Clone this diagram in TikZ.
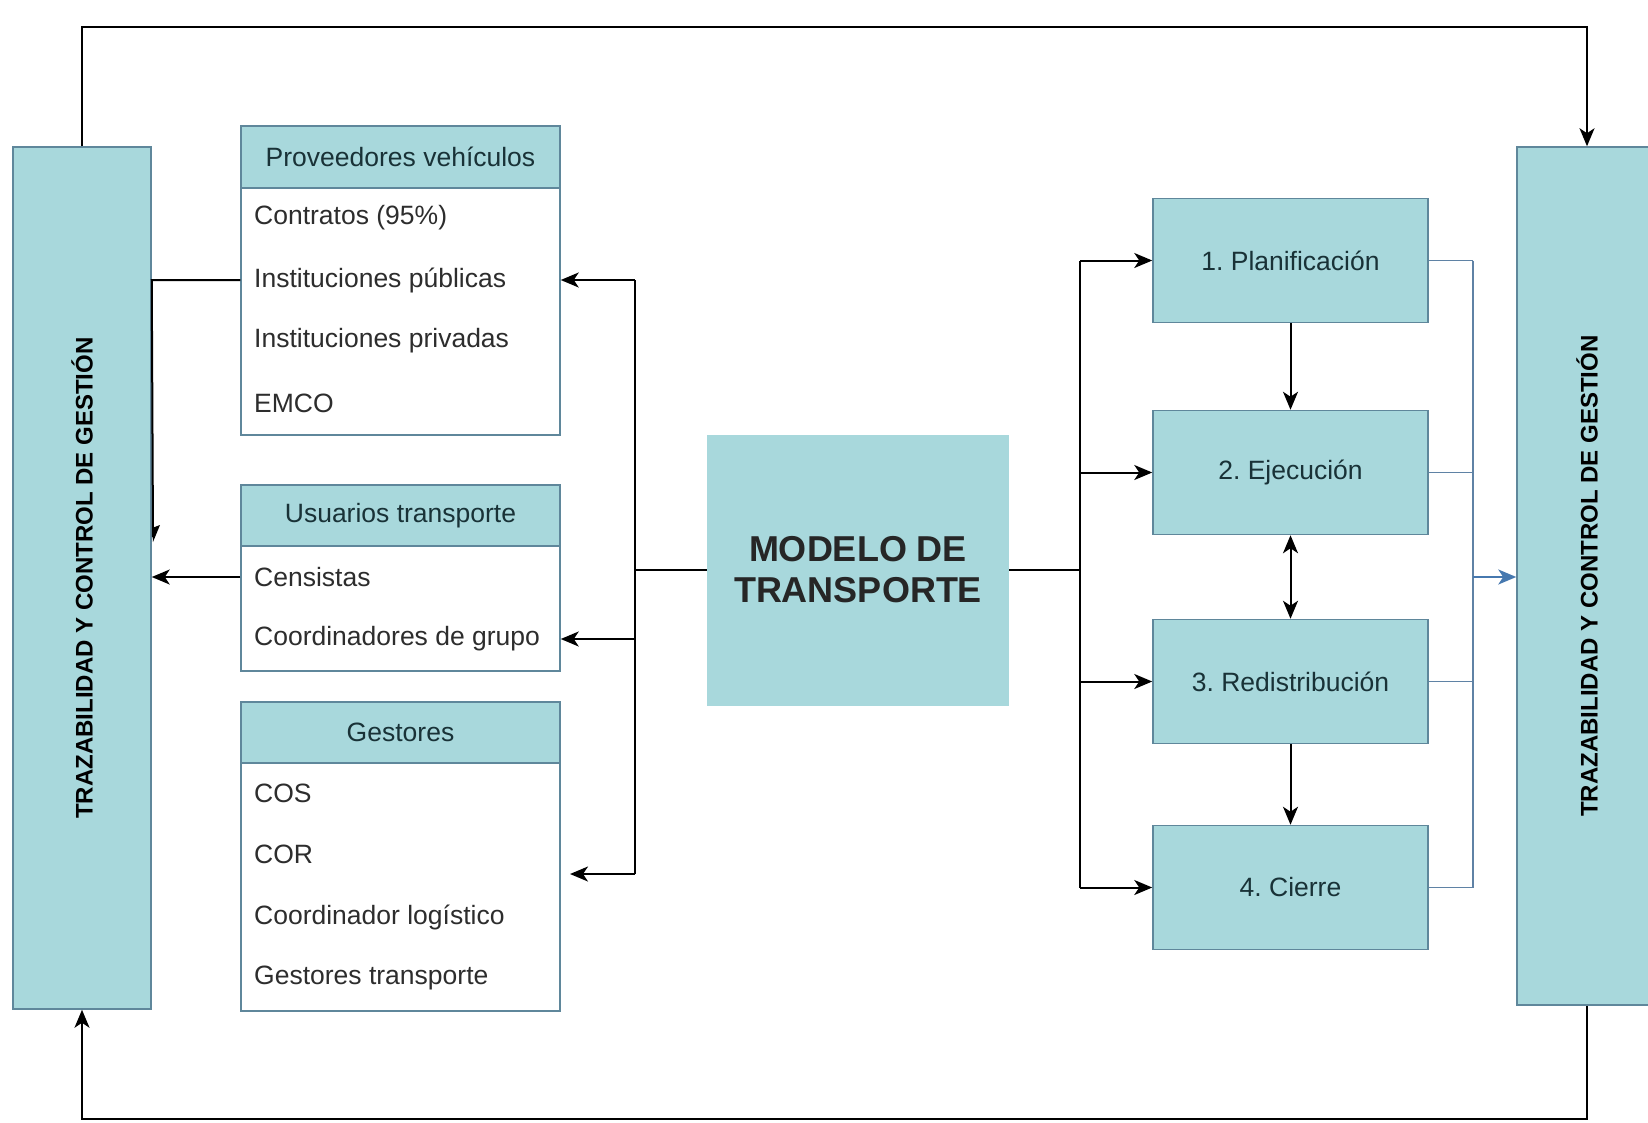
\documentclass[tikz,border=0pt]{standalone}
\usepackage{fontspec}
\setmainfont{Liberation Sans}
\usetikzlibrary{arrows.meta}
\definecolor{tealfill}{RGB}{168,216,220}
\definecolor{boxline}{RGB}{95,135,155}
\definecolor{blueline}{RGB}{95,130,165}
\definecolor{bluearrow}{RGB}{70,120,175}
\definecolor{hdrtext}{RGB}{25,50,55}
\definecolor{rowtext}{RGB}{45,45,45}
\frenchspacing
\begin{document}
\begin{tikzpicture}[x=1pt,y=-1pt,
  bar/.style={draw=boxline,line width=1.5pt,fill=tealfill,minimum width=138pt,inner sep=0pt,
    font=\fontsize{24}{28}\selectfont\bfseries,text=black},
  hdr/.style={draw=boxline,line width=1.5pt,fill=tealfill,minimum width=319pt,inner sep=0pt,
    font=\fontsize{26.5}{30}\selectfont,text=hdrtext},
  body/.style={draw=boxline,line width=1.5pt,fill=white,minimum width=319pt,inner sep=0pt},
  row/.style={anchor=west,inner sep=0pt,font=\fontsize{26.5}{30}\selectfont,text=rowtext},
  stepbox/.style={draw=boxline,line width=1.5pt,fill=tealfill,minimum width=275pt,minimum height=124pt,
    inner sep=0pt,font=\fontsize{26.5}{30}\selectfont,text=hdrtext},
  conn/.style={draw=black,line width=2pt},
  arr/.style={conn,-{Stealth[length=18pt,width=15pt,inset=5pt]}},
  darr/.style={conn,{Stealth[length=18pt,width=15pt,inset=5pt]}-{Stealth[length=18pt,width=15pt,inset=5pt]}},
  bconn/.style={draw=blueline,line width=1.6pt},
  barr/.style={draw=bluearrow,line width=2.4pt,-{Stealth[length=18pt,width=15pt,inset=5pt]}}]
\useasboundingbox (0,0) rectangle (1648,1122);

% side bars
\node[bar,minimum height=862pt] (lbar) at (82,578) {\rotatebox{90}{TRAZABILIDAD Y CONTROL DE GESTIÓN}};
\node[bar,minimum height=858pt,minimum width=140pt] (rbar) at (1587,576) {\rotatebox{90}{TRAZABILIDAD Y CONTROL DE GESTIÓN}};

% Proveedores
\node[body,minimum height=247pt] (pb) at (400.5,311.5) {};
\node[hdr,minimum height=62pt] (ph) at (400.5,157) {Proveedores vehículos};
\node[row] (r11) at (254,218) {Contratos (95\%)};
\node[row] (r12) at (254,280) {Instituciones públicas};
\node[row] (r13) at (254,341) {Instituciones privadas};
\node[row] (r14) at (254,403) {EMCO};

% Usuarios
\node[body,minimum height=125pt] (ub) at (400.5,608.5) {};
\node[hdr,minimum height=61pt] (uh) at (400.5,515.5) {Usuarios transporte};
\node[row] (r21) at (254,577) {Censistas};
\node[row] (r22) at (254,639) {Coordinadores de grupo};

% Gestores
\node[body,minimum height=248pt] (gb) at (400.5,887) {};
\node[hdr,minimum height=61pt] (gh) at (400.5,732.5) {Gestores};
\node[row] (r31) at (254,793) {COS};
\node[row] (r32) at (254,854) {COR};
\node[row] (r33) at (254,917) {Coordinador logístico};
\node[row] (r34) at (254,978) {Gestores transporte};

% Modelo
\node[fill=tealfill,minimum width=302pt,minimum height=271pt,inner sep=0pt,align=center,
  font=\fontsize{36}{41}\selectfont\bfseries,text=black!85] (mod) at (858,570) {MODELO DE\\TRANSPORTE};

% steps
\node[stepbox] (s1) at (1290.5,260.5) {1. Planificación};
\node[stepbox] (s2) at (1290.5,472.5) {2. Ejecución};
\node[stepbox] (s3) at (1290.5,681.5) {3. Redistribución};
\node[stepbox] (s4) at (1290.5,887.5) {4. Cierre};

% outer loop
\coordinate (tl) at (82,27);
\coordinate (bl) at (82,1119);
\draw[arr] (lbar.north) -- (tl) -| (rbar.north);
\draw[arr] (rbar.south) |- (bl) -- (lbar.south);

% left connectors
\coordinate (stub) at (153,537);
\draw[conn] (pb.west |- r12) -- (lbar.east |- r12) -- (stub);
\fill[black] (stub) ++(-1,-9) -- ++(8,-3) -- ++(-7,17) -- cycle;
\draw[arr] (ub.west |- r21) -- (lbar.east |- r21);

% modelo to left
\coordinate (jl) at (635,570);
\coordinate (gtip) at (570,874);
\draw[conn] (mod.west) -- (jl);
\draw[conn] (jl |- r12) -- (jl |- gtip);
\draw[arr] (jl |- r12) -- (pb.east |- r12);
\draw[arr] (jl |- r22) -- (ub.east |- r22);
\draw[arr] (jl |- gtip) -- (gtip);

% modelo to right
\coordinate (jr) at (1080,570);
\draw[conn] (mod.east) -- (jr);
\draw[conn] (jr |- s1.west) -- (jr |- s4.west);
\foreach \s in {s1,s2,s3,s4} \draw[arr] (jr |- \s.west) -- (\s.west);

% step chain
\draw[arr] (s1.south) -- (s2.north);
\draw[darr] (s2.south) -- (s3.north);
\draw[arr] (s3.south) -- (s4.north);

% right collector
\coordinate (jb) at (1473,577);
\foreach \s in {s1,s2,s3,s4} \draw[bconn] (\s.east) -- (jb |- \s.east);
\draw[bconn] (jb |- s1.east) -- (jb |- s4.east);
\draw[barr] (jb) -- (rbar.west |- jb);
\end{tikzpicture}
\end{document}
